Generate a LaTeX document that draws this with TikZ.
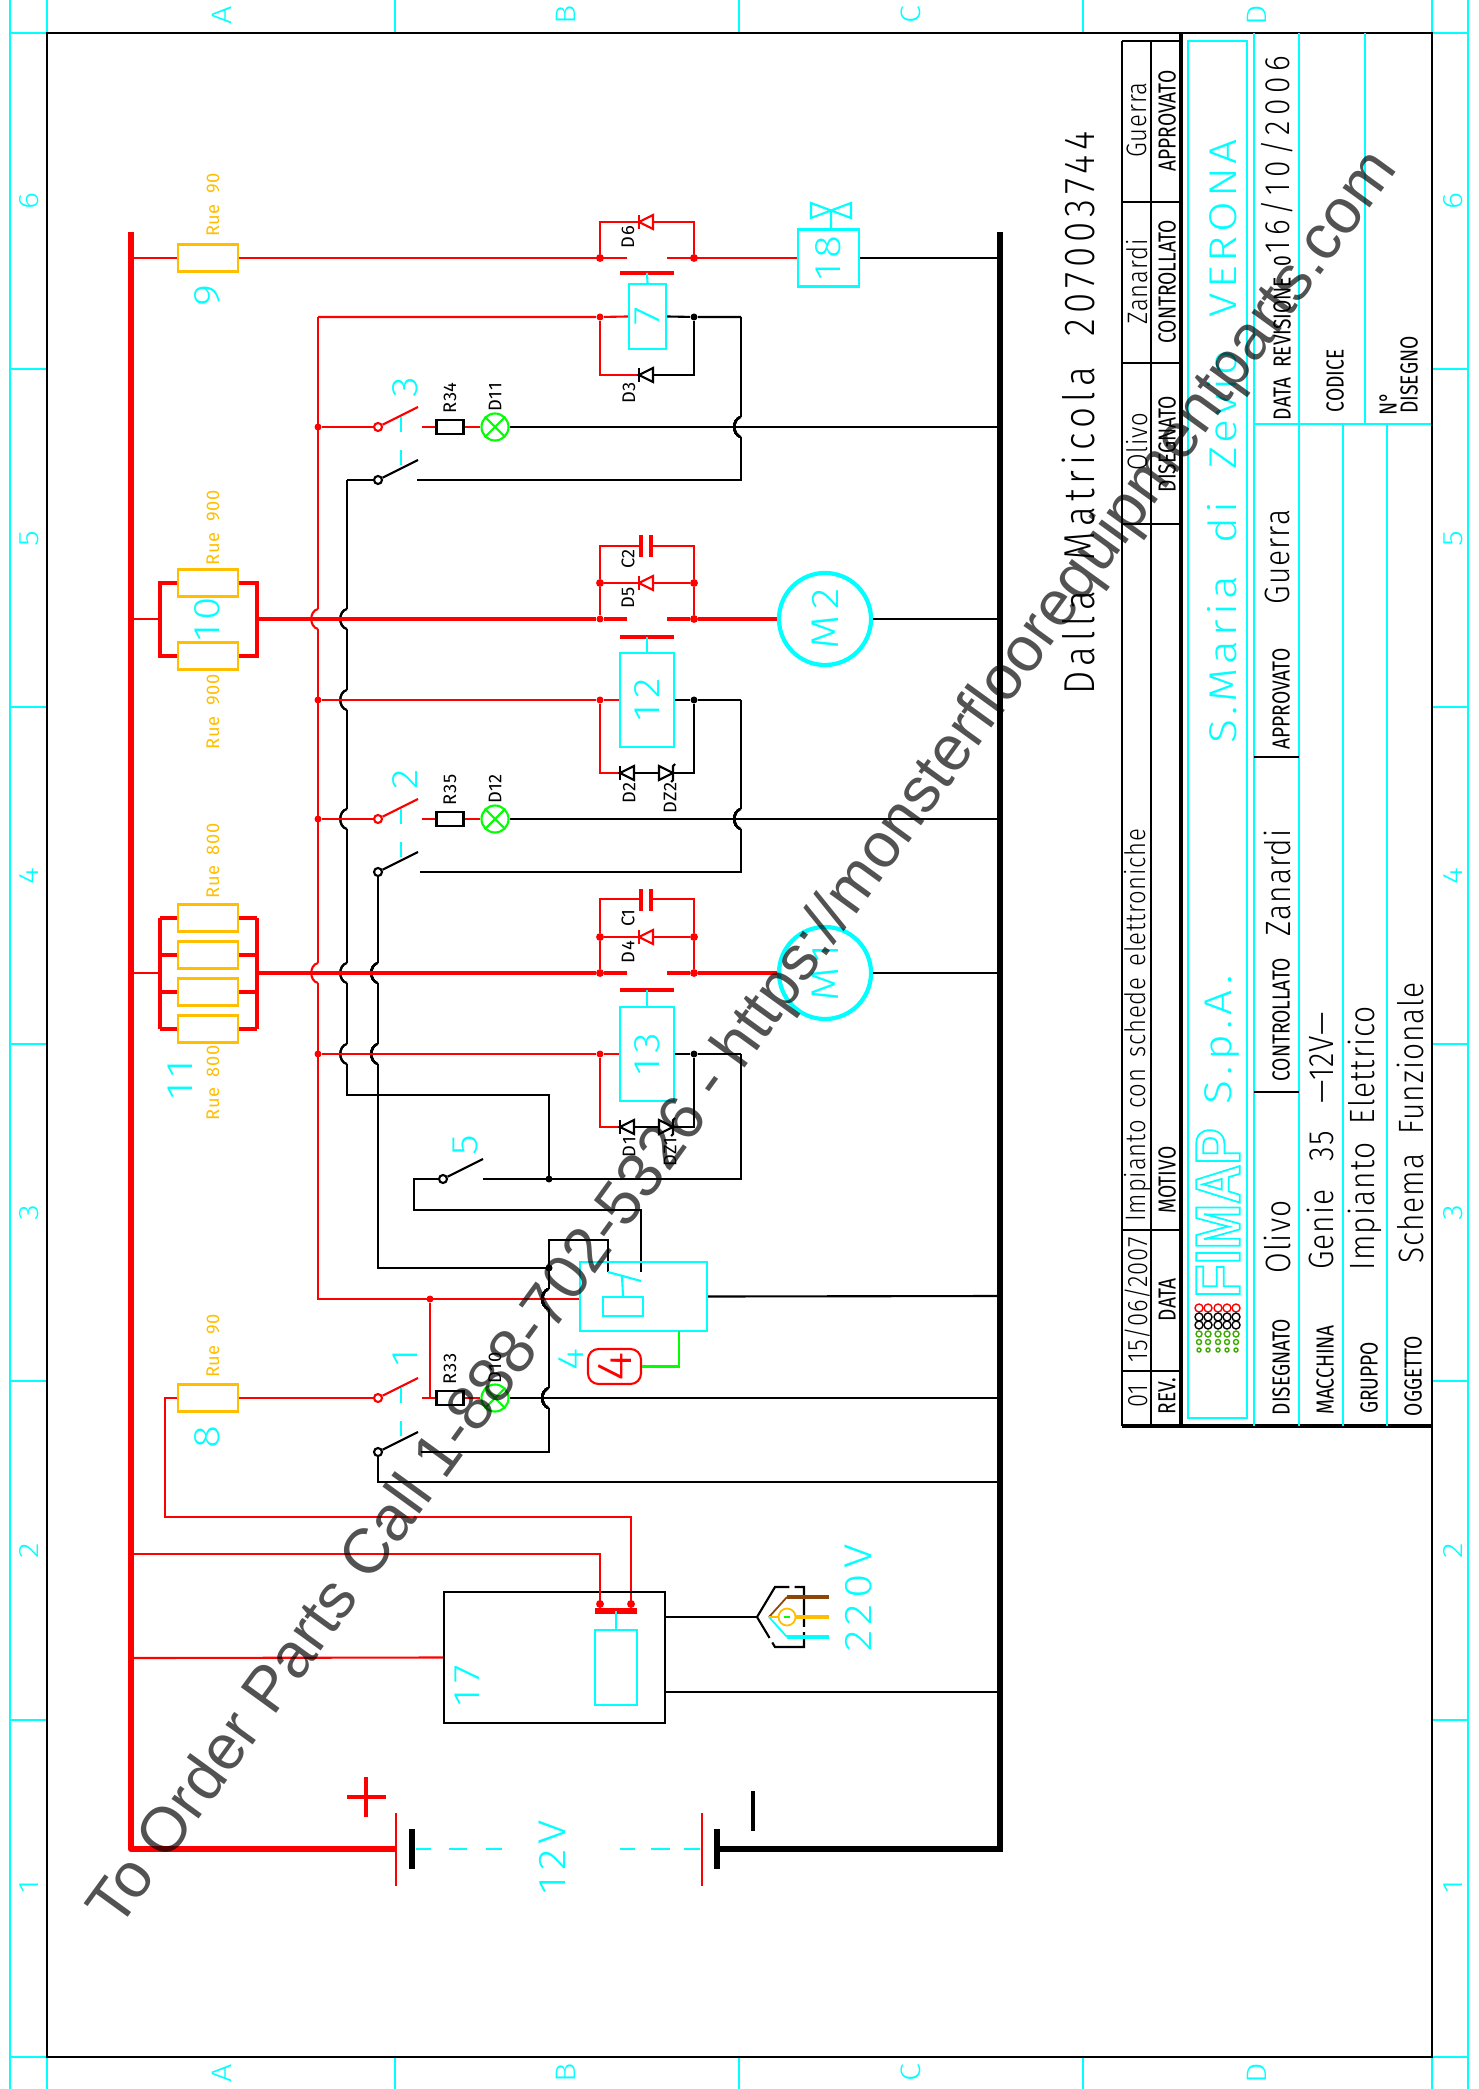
\documentclass[tikz,border=0pt]{standalone}
\usepackage{fontspec}
\usetikzlibrary{calc}
\setmainfont{Liberation Sans}
\newfontfamily\cadfont{Fira Sans Light}[FakeStretch=0.85,LetterSpace=3]
\newfontfamily\cadwide{Fira Sans Light}[FakeStretch=0.85,LetterSpace=12]
\newfontfamily\caddate{Fira Sans Light}[FakeStretch=0.85,LetterSpace=16]
\newfontfamily\cadlarge{Fira Sans Light}[FakeStretch=1.15,LetterSpace=14]
\newfontfamily\cadplate{Fira Sans Light}[FakeStretch=1.15,LetterSpace=10]
\newfontfamily\cadhead{Fira Sans}[FakeStretch=0.78]
\newfontfamily\cadtag{Fira Sans}[LetterSpace=3]
\newfontfamily\logofont{Liberation Sans Bold}[FakeStretch=0.86]
\definecolor{cadcyan}{RGB}{0,255,255}
\definecolor{cadred}{RGB}{255,0,0}
\definecolor{cadgreen}{RGB}{0,255,0}
\definecolor{cadorange}{RGB}{255,191,0}
\definecolor{cadbrown}{RGB}{140,70,10}
\definecolor{dotgreen}{RGB}{60,170,0}
\tikzset{
  rwire/.style={cadred,line width=.6pt},
  rpow/.style={cadred,line width=1.15pt},
  rbus/.style={cadred,line width=1.8pt},
  bwire/.style={black,line width=.6pt},
  bbus/.style={black,line width=1.8pt},
  cwire/.style={cadcyan,line width=.6pt},
  cthin/.style={cadcyan,line width=.45pt},
  contact/.style={cadred,line width=1.3pt},
  rue/.style={draw=cadorange,line width=.6pt,minimum width=.6cm,minimum height=.27cm,inner sep=0pt},
  coil/.style={draw=cadcyan,line width=.6pt,text=cadcyan,inner sep=0pt,font=\cadlarge\fontsize{10.5}{10}\selectfont},
  ohm/.style={draw=black,line width=.6pt,fill=white,minimum width=.27cm,minimum height=.14cm,inner sep=0pt},
  lamp/.style={circle,draw=cadgreen,line width=.6pt,minimum size=.27cm,inner sep=0pt},
  motor/.style={circle,draw=cadcyan,line width=1.2pt,fill=white,minimum size=.92cm,inner sep=0pt,text=cadcyan,font=\cadlarge\fontsize{11}{10}\selectfont},
  jun/.style={circle,fill,inner sep=0pt,minimum size=.07cm},
  ringj/.style={circle,draw,line width=.5pt,fill=white,inner sep=0pt,minimum size=.06cm},
  swring/.style={circle,draw,line width=.6pt,fill=white,inner sep=0pt,minimum size=.08cm},
  big/.style={rotate=90,text=cadcyan,font=\cadlarge\fontsize{10.5}{10}\selectfont},
  ruetxt/.style={rotate=90,text=cadorange,font=\cadtag\fontsize{5.2}{5}\selectfont},
  tag/.style={rotate=90,font=\cadtag\fontsize{5.2}{5}\selectfont},
  hd/.style={rotate=90,font=\cadhead\fontsize{7}{6}\selectfont},
  ent/.style={rotate=90,font=\cadfont\fontsize{10}{10}\selectfont},
  rev/.style={rotate=90,font=\cadfont\fontsize{8}{8}\selectfont},
  edge/.style={rotate=90,text=cadcyan,font=\cadlarge\fontsize{8}{7}\selectfont},
  wide/.style={rotate=90,font=\cadwide\fontsize{12.3}{12}\selectfont},
  compname/.style={rotate=90,text=cadcyan,font=\cadlarge\fontsize{11}{11}\selectfont},
  plate/.style={rotate=90,text=cadcyan,font=\cadplate\fontsize{11}{11}\selectfont},
}
\newcommand{\hop}[3]{%
  \fill[white] (#1-1.5,#2-10) rectangle (#1+1.5,#2+10);
  \draw[#3] (#1,#2-10) .. controls (#1-9,#2-8) and (#1-9,#2+8) .. (#1,#2+10);}
\newcommand{\dio}[3]{%
  \draw[#3,fill=white] (#1,#2) -- (#1+14,#2-7) -- (#1+14,#2+7) -- cycle;
  \draw[#3] (#1,#2-7) -- (#1,#2+7);}
\newcommand{\zen}[2]{%
  \draw[bwire,fill=white] (#1,#2-7) -- (#1,#2+7) -- (#1+14,#2) -- cycle;
  \draw[bwire] (#1+16,#2-9) -- (#1+14,#2-7) -- (#1+14,#2+7) -- (#1+12,#2+9);}
\begin{document}
\begin{tikzpicture}[x=0.01cm,y=-0.01cm]
\useasboundingbox (0,0) rectangle (1478,2089);

\foreach \xa in {10,1468} \draw[cthin] (\xa,0) -- (\xa,2089);
\foreach \xa in {47,395,739,1083,1432} {
  \draw[cthin] (\xa,0) -- (\xa,33);
  \draw[cthin] (\xa,2057) -- (\xa,2089);
}
\foreach \ya in {33,369,707,1044,1381,1720,2057} {
  \draw[cthin] (10,\ya) -- (47,\ya);
  \draw[cthin] (1432,\ya) -- (1468,\ya);
}
\draw[cthin] (1454,2089) arc (180:360:14 and -14);
\foreach \lt/\xa in {A/222,B/566,C/911,D/1257} {
  \node[edge] (top\lt) at (\xa,15) {\lt};
  \node[edge] (bot\lt) at (\xa,2073) {\lt};
}
\foreach \nm/\ya in {1/1887,2/1551,3/1213,4/876,5/539,6/201} {
  \node[edge] (lft\nm) at (29,\ya) {\nm};
  \node[edge] (rgt\nm) at (1453,\ya) {\nm};
}
\draw[black,line width=.7pt] (47,33) rectangle (1432,2057);

\coordinate (buscorner) at (131,1849);
\coordinate (bustop) at (131,232);
\coordinate (gndtop) at (1000,232);
\coordinate (gndcorner) at (1000,1849);
\draw[rbus,line join=round] (bustop) -- (buscorner) -- (396,1849);
\draw[bbus] (gndtop) -- (gndcorner) -- (717,1849);

% long verticals come first, the hops cut them
\draw[rwire] (318,317) -- (318,1299) -- (580,1299);
\draw[bwire] (347,480) -- (347,1095) -- (549,1095) -- (549,1179);
\draw[bwire] (378,872) -- (378,1268) -- (549,1268);
\draw[bwire] (741,317) -- (741,480) -- (417,480);
\draw[bwire] (741,700) -- (741,872) -- (420,872);
\draw[bwire] (741,1054) -- (741,1179) -- (483,1179);
\draw[bwire] (443,1179) -- (414,1179) -- (414,1210) -- (641,1210) -- (641,1272);
\draw[bwire] (608,1272) -- (608,1240) -- (549,1240) -- (549,1452) -- (421,1452);
\draw[bwire] (378,1452) -- (378,1482) -- (1000,1482);
\foreach \ya in {619,973} \hop{318}{\ya}{rwire}
\foreach \ya in {619,700,819,973,1054} \hop{347}{\ya}{bwire}
\foreach \ya in {973,1054} \hop{378}{\ya}{bwire}
\foreach \ya in {427,819} \hop{741}{\ya}{bwire}
\foreach \ya in {1299,1398} \hop{549}{\ya}{bwire}
\draw[rwire] (318,1299) -- (580,1299);

% lamp branches
\foreach \ya/\rn/\dn/\sw/\yb in {427/R34/D11/3/480,819/R35/D12/2/872,1398/R33/D10/1/1452} {
  \node[swring,draw=cadred] (sa\sw) at (378,\ya) {};
  \node[swring] (sb\sw) at (378,\yb) {};
  \node[ohm] (\rn) at (450,\ya) {};
  \node[lamp] (\dn) at (495,\ya) {};
  \draw[rwire] (sa\sw) -- (418,\ya-20);
  \draw[bwire] (sb\sw) -- (418,\yb-20);
  \draw[rwire] (422,\ya) -- (\rn.west);
  \draw[rwire] (\rn.east) -- (\dn.west);
  \draw[bwire] (\dn.east) -- (1000,\ya);
  \draw[cadgreen,line width=.6pt] (\dn.north west) -- (\dn.south east) (\dn.north east) -- (\dn.south west);
  \draw[cwire] (401,\ya-10) -- (401,\ya+5);
  \draw[cwire] (401,\ya+23) -- (401,\ya+38);
  \node[big] (nr\sw) at (405,\ya-40) {\sw};
  \node[tag] (l\rn) at (450,\ya-29) {\rn};
  \node[tag] (l\dn) at (495,\ya-30) {\dn};
}
\node[jun,cadred] (j3) at (318,427) {};
\node[jun,cadred] (j2) at (318,819) {};
\draw[rwire] (j3) -- (sa3);
\draw[rwire] (j2) -- (sa2);
\draw[bwire] (347,480) -- (sb3);

% valve branch
\node[rue] (r9) at (208,258) {};
\node[ringj,cadred] (a9) at (600,258) {};
\node[ringj,cadred] (b9) at (694,258) {};
\node[coil,minimum width=.61cm,minimum height=.57cm] (v18) at (828.5,258) {\rotatebox{90}{18}};
\draw[rwire] (131,258) -- (r9.west);
\draw[rwire] (r9.east) -- (627,258);
\draw[rwire] (667,258) -- (v18.west);
\draw[bwire] (v18.east) -- (1000,258);
\draw[cwire] (831,229) -- (831,210) (811,203) -- (851,218) -- (851,203) -- (811,218) -- cycle;
\draw[rwire] (a9) -- (600,222) -- (639,222);
\draw[rwire] (b9) -- (694,222) -- (653,222);
\dio{639}{222}{rwire}
\node[tag] (ld6) at (628,237) {D6};
\draw[contact] (620,273) -- (674,273);
\node[coil,minimum width=.37cm,minimum height=.65cm] (k7) at (647.5,316.5) {\rotatebox{90}{7}};
\draw[cwire] (647,273) -- (k7.north);
\node[jun,cadred] (a7) at (600,317) {};
\node[jun] (b7) at (694,317) {};
\draw[rwire] (318,317) -- (a7) -- (k7.west);
\draw[bwire] (k7.east) -- (b7) -- (741,317);
\draw[rwire] (a7) -- (600,375) -- (639,375);
\draw[bwire] (b7) -- (694,375) -- (653,375);
\dio{639}{375}{bwire}
\node[tag] (ld3) at (629,393) {D3};
\node[ruetxt] (t9) at (213,205) {Rue\ \ 90};
\node[big] (n9) at (207,296) {9};

% motor M2
\node[rue] (r10a) at (208,583) {};
\node[rue] (r10b) at (208,656) {};
\draw[rwire] (131,619) -- (160,619);
\draw[rpow] (r10a.west) -- (160,583) -- (160,656) -- (r10b.west);
\draw[rpow] (r10a.east) -- (257,583) -- (257,656) -- (r10b.east);
\node[motor] (m2) at (825,619) {\rotatebox{90}{M2}};
\node[jun,cadred] (a2m) at (600,619) {};
\node[ringj,cadred] (b2m) at (694,619) {};
\draw[rpow] (257,619) -- (a2m) -- (627,619);
\draw[rpow] (667,619) -- (b2m) -- (m2.west);
\draw[bwire,line width=.7pt] (m2.east) -- (1000,619);
\node[ringj,cadred] (c2m) at (600,583) {};
\node[ringj,cadred] (d2m) at (694,583) {};
\draw[rwire] (a2m) -- (c2m) -- (600,546) -- (639,546);
\draw[rwire] (b2m) -- (d2m) -- (694,546) -- (653,546);
\draw[rwire] (c2m) -- (639,583);
\draw[rwire] (d2m) -- (653,583);
\dio{639}{583}{rwire}
\draw[contact] (641,535) -- (641,557) (651,535) -- (651,557);
\node[tag] (lc2) at (628,559) {C2};
\node[tag] (ld5) at (628,598) {D5};
\draw[contact] (620,637) -- (674,637);
\node[coil,minimum width=.54cm,minimum height=.94cm] (k12) at (647,700) {\rotatebox{90}{12}};
\draw[cwire] (647,637) -- (k12.north);
\node[jun,cadred] (j12) at (318,700) {};
\node[jun,cadred] (a12) at (600,700) {};
\node[jun] (b12) at (694,700) {};
\draw[rwire] (j12) -- (a12) -- (k12.west);
\draw[bwire] (k12.east) -- (b12) -- (741,700);
\draw[rwire] (a12) -- (600,773) -- (620,773);
\draw[bwire] (620,773) -- (694,773) -- (b12);
\dio{620}{773}{bwire}
\zen{659}{773}
\node[tag] (ld2) at (629,793) {D2};
\node[tag] (ldz2) at (670,798) {DZ2};
\node[ruetxt] (t10a) at (213,528) {Rue\ \ 900};
\node[ruetxt] (t10b) at (213,712) {Rue\ \ 900};
\node[rotate=90,text=cadcyan,font=\cadplate\fontsize{10.5}{10}\selectfont] (n10) at (207,619) {10};

% motor M1
\foreach \ya/\nm in {918/a,955/b,992/c,1029/d} {
  \node[rue] (r11\nm) at (208,\ya) {};
  \draw[rpow] (160,\ya) -- (r11\nm.west);
  \draw[rpow] (r11\nm.east) -- (257,\ya);
}
\draw[rwire] (131,973) -- (160,973);
\draw[rpow] (160,918) -- (160,1029);
\draw[rpow] (257,918) -- (257,1029);
\node[motor] (m1) at (825,973) {\rotatebox{90}{M1}};
\node[ringj,cadred] (a1m) at (600,973) {};
\node[ringj,cadred] (b1m) at (694,973) {};
\draw[rpow] (257,973) -- (a1m) -- (627,973);
\draw[rpow] (667,973) -- (b1m) -- (m1.west);
\draw[bwire,line width=.7pt] (m1.east) -- (1000,973);
\node[ringj,cadred] (c1m) at (600,937) {};
\node[ringj,cadred] (d1m) at (694,937) {};
\draw[rwire] (a1m) -- (c1m) -- (600,899) -- (639,899);
\draw[rwire] (b1m) -- (d1m) -- (694,899) -- (653,899);
\draw[rwire] (c1m) -- (639,937);
\draw[rwire] (d1m) -- (653,937);
\dio{639}{937}{rwire}
\draw[contact] (641,889) -- (641,911) (651,889) -- (651,911);
\node[tag] (lc1) at (628,918) {C1};
\node[tag] (ld4) at (628,952) {D4};
\draw[contact] (620,990) -- (674,990);
\node[coil,minimum width=.54cm,minimum height=.94cm] (k13) at (647,1054) {\rotatebox{90}{13}};
\draw[cwire] (647,990) -- (k13.north);
\node[jun,cadred] (j13) at (318,1054) {};
\node[jun,cadred] (a13) at (600,1054) {};
\node[jun] (b13) at (694,1054) {};
\draw[rwire] (j13) -- (a13) -- (k13.west);
\draw[bwire] (k13.east) -- (b13) -- (741,1054);
\draw[rwire] (a13) -- (600,1127) -- (620,1127);
\draw[bwire] (620,1127) -- (694,1127) -- (b13);
\dio{620}{1127}{bwire}
\zen{659}{1127}
\node[tag] (ld1) at (629,1147) {D1};
\node[tag] (ldz1) at (670,1152) {DZ1};
\node[ruetxt] (t11a) at (213,861) {Rue\ \ 800};
\node[ruetxt] (t11b) at (213,1083) {Rue\ \ 800};
\node[big] (n11) at (180,1080) {11};

% switch 5 and the relay block
\node[swring] (s5) at (443,1179) {};
\draw[bwire] (s5) -- (483,1159);
\node[jun] (j5) at (549,1179) {};
\node[jun] (j6) at (549,1268) {};
\node[big] (n5) at (465,1145) {5};
\node[coil,minimum width=1.27cm,minimum height=.69cm] (rl4) at (643.5,1296.5) {};
\node[coil,minimum width=.4cm,minimum height=.19cm] (rl4c) at (623,1306.5) {};
\draw[cwire] (rl4c.north) -- (622,1276) (608,1272) -- (641,1281);
\draw[bwire] (rl4.east) -- (1000,1296);
\node[draw=cadred,line width=.6pt,rounded corners=3pt,minimum width=.53cm,minimum height=.35cm,inner sep=0pt,text=cadred,font=\cadplate\fontsize{14}{10}\selectfont] (fl4) at (614.5,1366.5) {\rotatebox{90}{4}};
\coordinate (gr4) at (679,1331);
\draw[cadgreen,line width=.7pt] (fl4.east) -| (gr4);
\node[big] (n4) at (571,1359) {4};
\node[jun,cadred] (j33) at (430,1299) {};
\draw[rwire] (j33) -- (430,1398);

% fuse 8 and the charger
\node[rue] (r8) at (208,1398) {};
\draw[rwire] (r8.east) -- (sa1);
\draw[rwire] (r8.west) -- (165,1398) -- (165,1517) -- (631,1517) -- (631,1604);
\node[ruetxt] (t8) at (213,1346) {Rue\ \ 90};
\node[big] (n8) at (207,1437) {8};
\node[draw=black,line width=.6pt,minimum width=2.21cm,minimum height=1.31cm,inner sep=0pt] (b17) at (554.5,1657.5) {};
\draw[rwire] (131,1554) -- (600,1554) -- (600,1604);
\draw[rwire] (131,1658) -- (b17.west);
\node[ringj,cadred] (a17) at (600,1604) {};
\node[ringj,cadred] (c17) at (631,1604) {};
\draw[contact,line width=1.5pt] (595,1611) -- (637,1611);
\node[coil,minimum width=.42cm,minimum height=.75cm] (k17) at (616,1667.5) {};
\draw[cwire] (616,1611) -- (k17.north);
\node[big] (n17) at (467,1686) {17};
\draw[bwire] (b17.east |- 0,1617) -- (757,1617);
\draw[bwire] (b17.east |- 0,1692) -- (1000,1692);
\draw[black,line width=.6pt,dashed,dash pattern=on 14pt off 1.5pt] (757,1617) -- (775,1587) -- (804,1587) -- (804,1647) -- (775,1647) -- cycle;
\draw[cadbrown,line width=.5pt] (769,1617) -- (787,1597);
\draw[cadbrown,line width=1.3pt] (787,1597) -- (829,1597);
\draw[cadcyan,line width=.5pt] (769,1617) -- (787,1637);
\draw[cadcyan,line width=1.3pt] (787,1637) -- (829,1637);
\draw[cadorange,line width=.5pt] (769,1617) -- (829,1617);
\draw[cadorange,line width=1.1pt] (787,1617) -- (829,1617);
\node[circle,draw=cadorange,line width=.5pt,fill=white,minimum size=.17cm,inner sep=0pt] (pe) at (787,1617) {};
\fill[cadgreen] (784,1616) rectangle (790,1618);
\node[compname] (v220) at (858,1598) {220V};

% battery
\draw[cadred,line width=.7pt] (396,1813) -- (396,1886) (702,1813) -- (702,1886);
\draw[black,line width=1.6pt] (412,1829) -- (412,1869) (717,1829) -- (717,1869);
\draw[cwire] (416,1849) -- (431,1849) (449,1849) -- (467,1849) (486,1849) -- (502,1849);
\draw[cwire] (620,1849) -- (635,1849) (651,1849) -- (670,1849) (684,1849) -- (700,1849);
\node[compname] (v12) at (552,1857) {12V};
\draw[cadred,line width=1.4pt] (347,1797) -- (386,1797) (366,1777) -- (366,1817);
\draw[black,line width=1.4pt] (753,1791) -- (753,1831);

% title block
\draw[black,line width=.6pt] (1122,41) -- (1181,41);
\draw[black,line width=.6pt] (1122,41) -- (1122,1426) (1151,41) -- (1151,1426);
\foreach \ya in {202,363,524} \draw[black,line width=.5pt] (1122,\ya) -- (1181,\ya);
\foreach \ya in {1230,1371} \draw[black,line width=.5pt] (1122,\ya) -- (1181,\ya);
\draw[black,line width=.9pt] (1181,33) -- (1181,1426);
\draw[black,line width=.9pt] (1122,1426) -- (1432,1426);
\draw[cwire] (1188,41) rectangle (1247,1418);
\draw[cwire] (1254,33) -- (1254,1426) (1299,33) -- (1299,1426);
\draw[cwire] (1365,33) -- (1365,424) (1254,424) -- (1431,424);
\draw[cwire] (1343,424) -- (1343,1426) (1387,424) -- (1387,1426);
\draw[black,line width=.6pt] (1254,757) -- (1299,757) (1254,1092) -- (1299,1092);
\node[wide] (tmat) at (1078,413) {Dalla\ \ Matricola\ \ 207003744};
\node[rev] (tg) at (1137,120) {Guerra};
\node[hd] (tap) at (1167,121) {APPROVATO};
\node[rev] (tz) at (1137,282) {Zanardi};
\node[hd] (tcn) at (1167,282) {CONTROLLATO};
\node[rev] (to) at (1137,442) {Olivo};
\node[hd] (tds) at (1167,444) {DISEGNATO};
\node[rev] (t01) at (1138,1396) {01};
\node[rev] (tdr) at (1138,1300) {15/06/2007};
\node[rev] (tim) at (1138,1025) {Impianto\ \hspace{1pt}con\ \hspace{1pt}schede\ \hspace{1pt}elettroniche};
\node[hd] (trv) at (1167,1396) {REV.};
\node[hd] (tdt) at (1167,1300) {DATA};
\node[hd] (tmo) at (1167,1180) {MOTIVO};
\node[plate] (tsm) at (1222,441) {S.Maria\ \ di\ \ Zevio\ \ VERONA};
\node[compname] (tsp) at (1222,1040) {S.p.A.};
\node[rotate=90,text=cadcyan,font=\logofont\fontsize{18}{18}\selectfont] (tlg) at (1218,1213) {\special{pdf:code 1 Tr 0.5 w}FIMAP\special{pdf:code 0 Tr}};
\foreach \xa in {1199,1208,1218,1227,1236} {
  \draw[cadred,line width=.4pt] (\xa,1308) circle (4);
  \draw[black,line width=.4pt] (\xa,1317) circle (4) (\xa,1325) circle (4);
  \draw[dotgreen,line width=.4pt] (\xa,1334) circle (3) (\xa,1342) circle (2.5) (\xa,1350) circle (2);
}
\node[hd] (ddis) at (1281,1367) {DISEGNATO};
\node[ent] (dol) at (1277,1237) {Olivo};
\node[hd] (dcon) at (1281,1020) {CONTROLLATO};
\node[ent] (dza) at (1277,883) {Zanardi};
\node[hd] (dapp) at (1281,699) {APPROVATO};
\node[ent] (dgu) at (1277,557) {Guerra};
\node[hd] (drev) at (1282,338) {DATA\ \ REVISIONE\ \ 0};
\node[rotate=90,font=\caddate\fontsize{10}{10}\selectfont] (ddat) at (1277,155) {16/10/2006};
\node[hd] (dmac) at (1325,1370) {MACCHINA};
\node[ent] (dgen) at (1320,1141) {Genie\ \ \ 35\ \ \ —12V—};
\node[hd] (dgru) at (1369,1378) {GRUPPO};
\node[ent] (dimp) at (1365,1138) {Impianto\ \ Elettrico};
\node[hd] (dogg) at (1413,1376) {OGGETTO};
\node[ent] (dsch) at (1410,1123) {Schema\ \ Funzionale};
\node[hd] (dcod) at (1335,381) {CODICE};
\node[hd] (dno) at (1388,404) {N°};
\node[hd] (ddi) at (1409,375) {DISEGNO};

\node[rotate=54,text=black,opacity=.68,font=\fontsize{18}{18}\selectfont] (wmark) at (745,1040) {To Order Parts Call 1-888-702-5326 - https://monsterfloorequipmentparts.com};
\end{tikzpicture}
\end{document}
